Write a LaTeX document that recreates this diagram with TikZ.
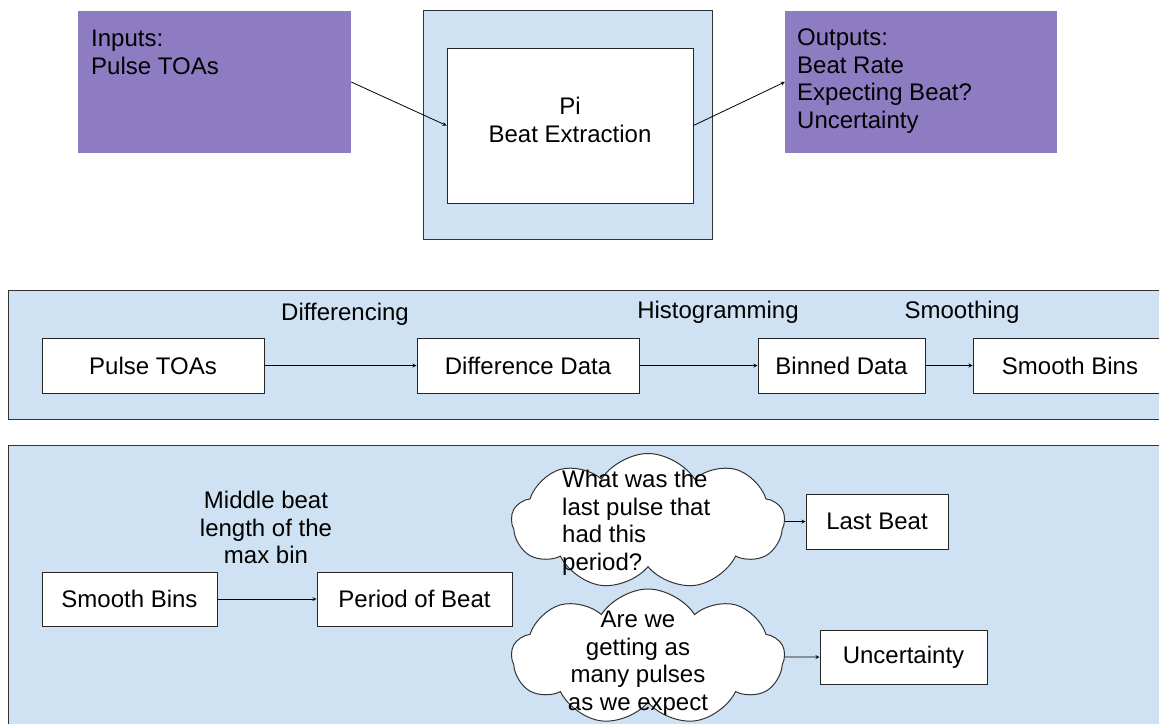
\documentclass[tikz,border=0pt]{standalone}
\usepackage{fontspec}
\setmainfont{Liberation Sans}
\usepackage{xcolor}
\usetikzlibrary{shapes.symbols}
\definecolor{moradocaja}{HTML}{8E7CC3}
\definecolor{azulpanel}{HTML}{CFE2F3}
\tikzset{
	texto/.style={font=\fontsize{24}{27.5}\selectfont, inner sep=0pt},
	panel/.style={draw=black!80, fill=azulpanel, line width=1pt, inner sep=0pt},
	morado/.style={fill=moradocaja, inner sep=0pt},
	etapa/.style={texto, draw=black!85, fill=white, line width=1pt},
	nube/.style={cloud, cloud puffs=9, cloud puff arc=115, cloud ignores aspect, draw=black!80, fill=white, line width=1pt, inner sep=0pt},
	flecha/.style={->, >=stealth, line width=0.8pt}
}

\begin{document}
\begin{tikzpicture}[x=1pt, y=-1pt]
			\clip (0,0) rectangle (1159,723);
			\fill[white] (0,0) rectangle (1159,723);

			% Bloque superior
			\node[morado, minimum width=273, minimum height=142] (entradas) at (214.5,82) {};
			\node[texto, anchor=north west, align=left] (entradastxt) at (91,30) {Inputs:\\Pulse TOAs};
			\node[panel, minimum width=289, minimum height=229] (pibase) at (567.5,125) {};
			\node[etapa, minimum width=246, minimum height=155] (pi) at (570,125.5) {};
			\node[texto, align=center] (pitxt) at (570,120) {Pi\\Beat Extraction};
			\node[morado, minimum width=272, minimum height=142] (salidas) at (921,82) {};
			\node[texto, anchor=north west, align=left] (salidastxt) at (797,29) {Outputs:\\Beat Rate\\Expecting Beat?\\Uncertainty};
			\draw[flecha] (entradas.east) -- (pi.west);
			\draw[flecha] (pi.east) -- (salidas.west);

			% Primera etapa
			\node[panel, minimum width=1170, minimum height=129] (panelA) at (593,354.5) {};
			\node[etapa, minimum width=222, minimum height=55] (toas) at (153,365.5) {Pulse TOAs};
			\node[etapa, minimum width=222, minimum height=55] (difs) at (528,365.5) {Difference Data};
			\node[etapa, minimum width=167, minimum height=55] (bins) at (841.5,365.5) {Binned Data};
			\node[etapa, minimum width=194, minimum height=55] (suave) at (1070,365.5) {Smooth Bins};
			\node[texto, anchor=base] (lbldif) at (345,320) {Differencing};
			\node[texto, anchor=base] (lblhist) at (718,318) {Histogramming};
			\node[texto, anchor=base] (lblsuave) at (962,318) {Smoothing};
			\draw[flecha] (toas) -- (difs);
			\draw[flecha] (difs) -- (bins);
			\draw[flecha] (bins) -- (suave);

			% Segunda etapa
			\node[panel, minimum width=1170, minimum height=300] (panelB) at (593,595) {};
			\node[etapa, minimum width=175, minimum height=54] (suave2) at (129.5,599) {Smooth Bins};
			\node[etapa, minimum width=195, minimum height=54] (periodo) at (414.5,599) {Period of Beat};
			\node[texto, align=center, anchor=north] (lblmax) at (266,491) {Middle beat\\length of the\\max bin};
			\draw[flecha] (suave2) -- (periodo);

			% Nubes
			\node[nube, minimum width=273, minimum height=136] (nube1) at (648,521.5) {};
			\node[texto, anchor=north west, align=left] (nube1txt) at (562,470) {What was the\\last pulse that\\had this\\period?};
			\node[nube, minimum width=273, minimum height=136] (nube2) at (648,657) {};
			\node[texto, anchor=north, align=center] (nube2txt) at (638,611) {Are we\\getting as\\many pulses\\as we expect};
			\node[etapa, minimum width=142, minimum height=55] (ultimo) at (877,521.5) {Last Beat};
			\node[etapa, minimum width=167, minimum height=54] (incert) at (903.5,657) {Uncertainty};
			\draw[flecha] (nube1.east) -- (ultimo.west);
			\draw[flecha] (nube2.east) -- (incert.west);

		\end{tikzpicture}
\end{document}
